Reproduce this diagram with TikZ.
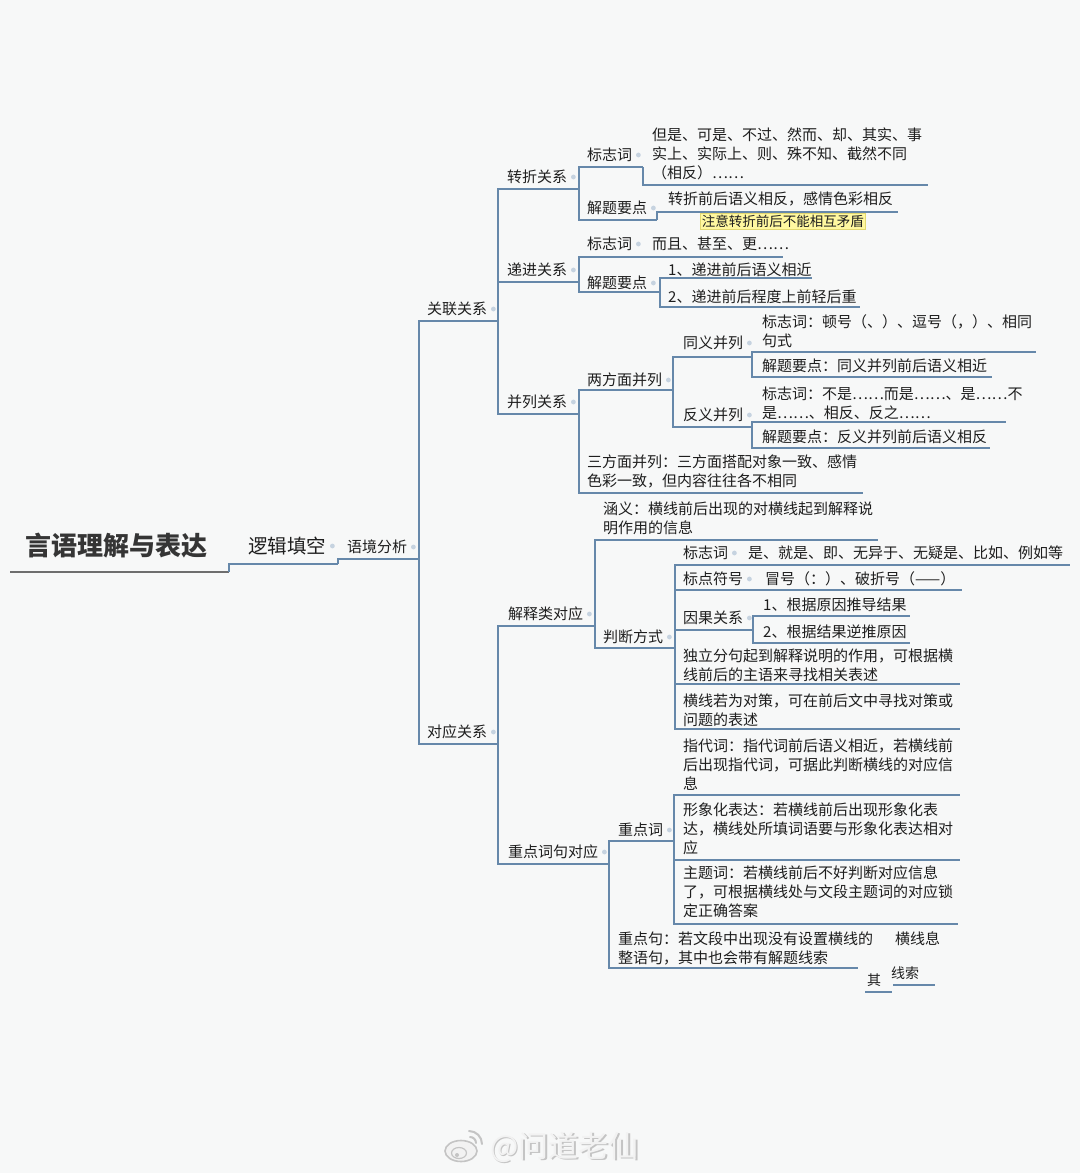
\documentclass[tikz,border=0pt]{standalone}
\usepackage{fontspec}
\setmainfont{Noto Sans CJK SC}
\usetikzlibrary{calc}
\definecolor{bgc}{HTML}{F7F8F8}
\definecolor{lnc}{HTML}{6688AA}
\definecolor{txc}{HTML}{1E1E1E}
\definecolor{dotc}{HTML}{C6D3E0}
\definecolor{rootc}{HTML}{6E6E6E}
\definecolor{notec}{HTML}{FFF8A0}
\definecolor{notebd}{HTML}{E2D870}
\definecolor{wmc}{HTML}{C4C4C4}
\definecolor{wmf}{HTML}{F2F2F2}
\newcommand\dotr[1]{\fill[dotc] ([xshift=6pt]#1.east) circle (2.4pt);}
\begin{document}
\begin{tikzpicture}[x=1pt,y=-1pt,
  ln/.style={draw=lnc, line width=1.7pt},
  rootln/.style={draw=rootc, line width=2.4pt},
  lbl/.style={anchor=west, inner sep=0pt, text=txc, font=\fontsize{15}{19}\selectfont, align=left},
  note/.style={anchor=west, inner sep=1.5pt, fill=notec, draw=notebd, line width=0.5pt, text=txc, font=\fontsize{13.5}{16}\selectfont},
  wm/.style={anchor=west, inner sep=0pt, font=\fontsize{30}{34}\selectfont}]
\fill[bgc] (0,0) rectangle (1080,1173);
\useasboundingbox (0,0) rectangle (1080,1173);

% ---------- underline coordinates ----------
\coordinate (root-l) at (10,572);
\coordinate (root-r) at (229,572);
\coordinate (ljtk) at (338,564);
\coordinate (yjfx) at (419,559);
\coordinate (gl) at (498,321);
\coordinate (dy) at (498,744);
\coordinate (zz) at (579,189);
\coordinate (dj) at (579,282);
\coordinate (bl) at (579,414);
\coordinate (zzbz) at (643,167);
\coordinate (zzbzc) at (928,185);
\coordinate (zzjt) at (657,220);
\coordinate (zzjtc) at (898,212);
\coordinate (djbz) at (643,257);
\coordinate (djbzc) at (783,257);
\coordinate (djjt) at (660,292);
\coordinate (dj1) at (812,278);
\coordinate (dj2) at (860,307);
\coordinate (lfm) at (673,390);
\coordinate (ty) at (752,357);
\coordinate (tybz) at (1036,352);
\coordinate (tyjt) at (992,377);
\coordinate (fy) at (752,427);
\coordinate (fybz) at (1006,422);
\coordinate (fyjt) at (990,448);
\coordinate (sfm) at (863,493);
\coordinate (js) at (595,626);
\coordinate (zd) at (609,864);
\coordinate (hy) at (878,540);
\coordinate (pd) at (675,648);
\coordinate (pdbz) at (1070,565);
\coordinate (pdbd) at (962,590);
\coordinate (pdyg) at (753,630);
\coordinate (yg1) at (910,616);
\coordinate (yg2) at (910,643);
\coordinate (pddl) at (960,684);
\coordinate (pdhx) at (960,729);
\coordinate (zdc) at (674,841);
\coordinate (zdczd) at (960,795);
\coordinate (zdcxx) at (960,860);
\coordinate (zdczt) at (958,924);
\coordinate (zdj) at (858,968);

% ---------- connectors ----------
\draw[rootln] (root-l) -- (root-r);
\draw[ln] (root-r) |- (ljtk);
\draw[ln] (ljtk) |- (yjfx);
\draw[ln] (yjfx) |- (gl);
\draw[ln] (yjfx) |- (dy);
\draw[ln] (gl) |- (zz);
\draw[ln] (gl) |- (dj);
\draw[ln] (gl) |- (bl);
\draw[ln] (zz) |- (zzbz);
\draw[ln] (zzbz) |- (zzbzc);
\draw[ln] (zz) |- (zzjt);
\draw[ln] (zzjt) |- (zzjtc);
\draw[ln] (dj) |- (djbz);
\draw[ln] (djbz) |- (djbzc);
\draw[ln] (dj) |- (djjt);
\draw[ln] (djjt) |- (dj1);
\draw[ln] (djjt) |- (dj2);
\draw[ln] (bl) |- (lfm);
\draw[ln] (lfm) |- (ty);
\draw[ln] (ty) |- (tybz);
\draw[ln] (ty) |- (tyjt);
\draw[ln] (lfm) |- (fy);
\draw[ln] (fy) |- (fybz);
\draw[ln] (fy) |- (fyjt);
\draw[ln] (bl) |- (sfm);
\draw[ln] (dy) |- (js);
\draw[ln] (dy) |- (zd);
\draw[ln] (js) |- (hy);
\draw[ln] (js) |- (pd);
\draw[ln] (pd) |- (pdbz);
\draw[ln] (pd) |- (pdbd);
\draw[ln] (pd) |- (pdyg);
\draw[ln] (pdyg) |- (yg1);
\draw[ln] (pdyg) |- (yg2);
\draw[ln] (pd) |- (pddl);
\draw[ln] (pd) |- (pdhx);
\draw[ln] (zd) |- (zdc);
\draw[ln] (zdc) |- (zdczd);
\draw[ln] (zdc) |- (zdcxx);
\draw[ln] (zdc) |- (zdczt);
\draw[ln] (zd) |- (zdj);

% ---------- texts ----------
\node[anchor=west, inner sep=0pt, text=txc!90, font=\fontsize{26}{30}\selectfont\bfseries] (root-t) at (25,546) {言语理解与表达};
\node[lbl, font=\fontsize{19.5}{23}\selectfont] (ljtk-t) at (248,546) {逻辑填空};
\node[lbl] (yjfx-t) at (347,547) {语境分析};
\node[lbl] (gl-t) at (427,309) {关联关系};
\node[lbl] (dy-t) at (427,732) {对应关系};
\node[lbl] (zz-t) at (507,177) {转折关系};
\node[lbl] (dj-t) at (507,270) {递进关系};
\node[lbl] (bl-t) at (507,402) {并列关系};

\node[lbl] (zzbz-t) at (587,155) {标志词};
\node[lbl] (zzbzc-t) at (652,154) {但是、可是、不过、然而、却、其实、事\\实上、实际上、则、殊不知、截然不同\\（相反）……};
\node[lbl] (zzjt-t) at (587,208) {解题要点};
\node[lbl] (zzjtc-t) at (668,199) {转折前后语义相反，感情色彩相反};
\node[note] (note-t) at (700,221) {注意转折前后不能相互矛盾};

\node[lbl] (djbz-t) at (587,244) {标志词};
\node[lbl] (djbzc-t) at (652,244) {而且、甚至、更……};
\node[lbl] (djjt-t) at (587,283) {解题要点};
\node[lbl] (dj1-t) at (668,270) {1、递进前后语义相近};
\node[lbl] (dj2-t) at (668,297) {2、递进前后程度上前轻后重};

\node[lbl] (lfm-t) at (587,380) {两方面并列};
\node[lbl] (ty-t) at (683,343) {同义并列};
\node[lbl] (tybz-t) at (762,331) {标志词：顿号（、）、逗号（，）、相同\\句式};
\node[lbl] (tyjt-t) at (762,366) {解题要点：同义并列前后语义相近};
\node[lbl] (fy-t) at (683,415) {反义并列};
\node[lbl] (fybz-t) at (762,403) {标志词：不是……而是……、是……不\\是……、相反、反之……};
\node[lbl] (fyjt-t) at (762,437) {解题要点：反义并列前后语义相反};
\node[lbl] (sfm-t) at (587,471) {三方面并列：三方面搭配对象一致、感情\\色彩一致，但内容往往各不相同};

\node[lbl] (js-t) at (508,614) {解释类对应};
\node[lbl] (zd-t) at (508,852) {重点词句对应};
\node[lbl] (hy-t) at (603,518) {涵义：横线前后出现的对横线起到解释说\\明作用的信息};
\node[lbl] (pd-t) at (603,637) {判断方式};
\node[lbl] (pdbz-t) at (683,553) {标志词};
\node[lbl] (pdbzc-t) at (748,553) {是、就是、即、无异于、无疑是、比如、例如等};
\node[lbl] (pdbd-t) at (683,579) {标点符号};
\node[lbl] (pdbdc-t) at (765,579) {冒号（：）、破折号（——）};
\node[lbl] (pdyg-t) at (683,618) {因果关系};
\node[lbl] (yg1-t) at (763,605) {1、根据原因推导结果};
\node[lbl] (yg2-t) at (763,632) {2、根据结果逆推原因};
\node[lbl] (pddl-t) at (683,665) {独立分句起到解释说明的作用，可根据横\\线前后的主语来寻找相关表述};
\node[lbl] (pdhx-t) at (683,710) {横线若为对策，可在前后文中寻找对策或\\问题的表述};

\node[lbl] (zdc-t) at (618,830) {重点词};
\node[lbl] (zdczd-t) at (683,765) {指代词：指代词前后语义相近，若横线前\\后出现指代词，可据此判断横线的对应信\\息};
\node[lbl] (zdcxx-t) at (683,829) {形象化表达：若横线前后出现形象化表\\达，横线处所填词语要与形象化表达相对\\应};
\node[lbl] (zdczt-t) at (683,892) {主题词：若横线前后不好判断对应信息\\了，可根据横线处与文段主题词的对应锁\\定正确答案};
\node[lbl] (zdj-t) at (618,948) {重点句：若文段中出现没有设置横线的\\整语句，其中也会带有解题线索};
\node[lbl] (g1-t) at (895,939) {横线息};
\node[lbl, font=\fontsize{14}{16}\selectfont] (g2-t) at (891,973) {线索};
\node[lbl, font=\fontsize{14}{16}\selectfont] (g3-t) at (867,980) {其};
\coordinate (g2-a) at (893,985);
\coordinate (g2-b) at (935,985);
\coordinate (g3-a) at (865,992);
\coordinate (g3-b) at (892,992);
\draw[draw=lnc, line width=1.4pt] (g2-a) -- (g2-b);
\draw[draw=lnc, line width=1.4pt] (g3-a) -- (g3-b);

% ---------- dots ----------
\dotr{ljtk-t} \dotr{yjfx-t} \dotr{gl-t} \dotr{dy-t}
\dotr{zz-t} \dotr{dj-t} \dotr{bl-t}
\dotr{zzbz-t} \dotr{zzjt-t} \dotr{djbz-t} \dotr{djjt-t}
\dotr{lfm-t} \dotr{ty-t} \dotr{fy-t}
\dotr{js-t} \dotr{zd-t} \dotr{pd-t}
\dotr{pdbz-t} \dotr{pdbd-t} \dotr{pdyg-t} \dotr{zdc-t}

% ---------- watermark ----------
\node[wm, text=wmc] (wm-s) at (491.5,1148.5) {@问道老仙};
\node[wm, text=wmf] (wm-t) at (490,1147) {@问道老仙};
\draw[wmc, line width=1.6pt, fill=wmf] (461,1151) ellipse (16pt and 10.5pt);
\draw[wmc, line width=1.2pt] (459,1153) ellipse (7.5pt and 5.5pt);
\fill[wmc] (457,1155) circle (2pt);
\draw[wmc, line width=2pt, line cap=round] (469,1131) to[bend left=45] (482,1144);
\draw[wmc, line width=2pt, line cap=round] (470,1137) to[bend left=45] (476,1143);
\end{tikzpicture}
\end{document}
